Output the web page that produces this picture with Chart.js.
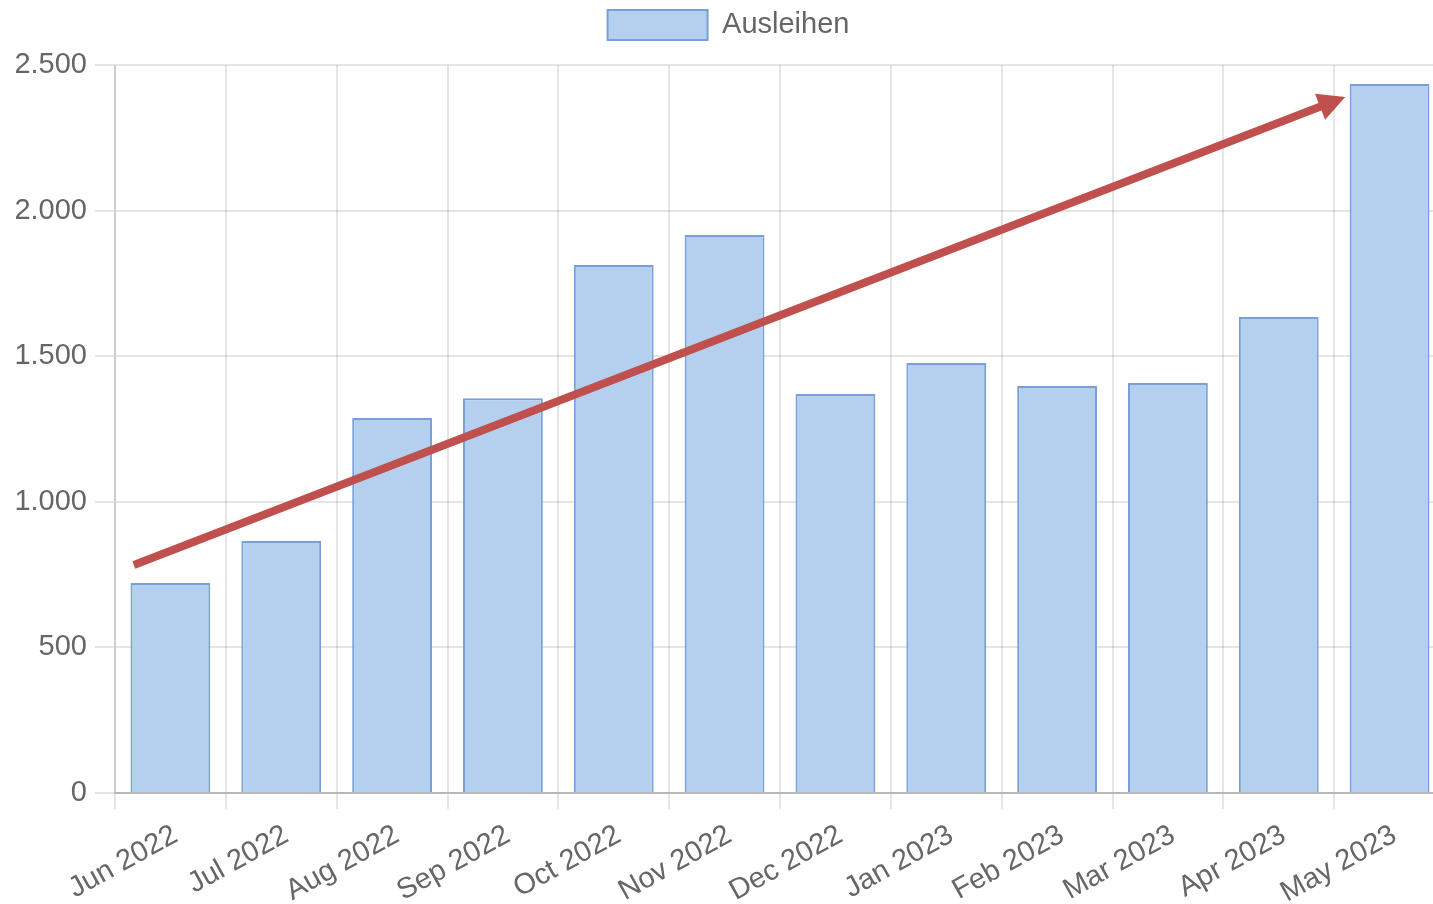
<!DOCTYPE html>
<html>
<head>
<meta charset="utf-8">
<script src="https://cdn.jsdelivr.net/npm/chart.js@4.4.0/dist/chart.umd.min.js"></script>
<style>
  html, body { margin: 0; padding: 0; background: #fff; overflow: hidden; }
  #wrap { width: 1450px; height: 904px; }
</style>
</head>
<body>
<div id="wrap"><canvas id="c" width="1450" height="904"></canvas></div>
<script>
const categories = ['Jun 2022','Jul 2022','Aug 2022','Sep 2022','Oct 2022','Nov 2022','Dec 2022','Jan 2023','Feb 2023','Mar 2023','Apr 2023','May 2023'];
const ausleihen = [721, 865, 1288, 1356, 1813, 1916, 1370, 1477, 1398, 1408, 1635, 2435];
const yTickValues = [0, 500, 1000, 1500, 2000, 2500];
const yTickLabels = ['0', '500', '1.000', '1.500', '2.000', '2.500'];
// trend arrow annotation in data space (category index, value)
const trendArrow = [{x: -0.33, y: 783}, {x: 10.6, y: 2390}];

const legendSpacer = {
  id: 'legendSpacer',
  beforeUpdate(chart) {
    const lg = chart.legend;
    if (lg && !lg._patched) {
      const f = lg.fit.bind(lg);
      lg.fit = function () { f(); this.height += 15; };
      lg._patched = true;
    }
  }
};

const arrowPlugin = {
  id: 'arrow',
  afterDatasetsDraw(chart) {
    const xs = chart.scales.x, ys = chart.scales.y;
    const ctx = chart.ctx;
    const px = v => xs.getPixelForValue(0) + v * (xs.getPixelForValue(1) - xs.getPixelForValue(0));
    const x0 = px(trendArrow[0].x), y0 = ys.getPixelForValue(trendArrow[0].y);
    const x1 = px(trendArrow[1].x), y1 = ys.getPixelForValue(trendArrow[1].y);
    const ang = Math.atan2(y1 - y0, x1 - x0);
    const headLen = 27, headW = 14;
    const bx = x1 - headLen * Math.cos(ang), by = y1 - headLen * Math.sin(ang);
    ctx.save();
    ctx.strokeStyle = 'rgb(192,80,77)';
    ctx.fillStyle = 'rgb(192,80,77)';
    ctx.lineWidth = 8;
    ctx.lineCap = 'butt';
    ctx.beginPath();
    ctx.moveTo(x0, y0);
    ctx.lineTo(bx + 4 * Math.cos(ang), by + 4 * Math.sin(ang));
    ctx.stroke();
    ctx.beginPath();
    ctx.moveTo(x1, y1);
    ctx.lineTo(bx + headW * Math.sin(ang), by - headW * Math.cos(ang));
    ctx.lineTo(bx - headW * Math.sin(ang), by + headW * Math.cos(ang));
    ctx.closePath();
    ctx.fill();
    ctx.restore();
  }
};

Chart.defaults.font.family = '"Liberation Sans", Arial, sans-serif';
Chart.defaults.color = '#666';

new Chart(document.getElementById('c'), {
  type: 'bar',
  data: {
    labels: categories,
    datasets: [{
      label: 'Ausleihen',
      data: ausleihen,
      backgroundColor: 'rgb(181,207,238)',
      borderColor: 'rgb(120,160,215)',
      borderWidth: 2
    }]
  },
  options: {
    responsive: false,
    animation: false,
    layout: { padding: { left: 12, right: 5, top: 0, bottom: 0 } },
    plugins: {
      legend: {
        labels: { font: { size: 29 }, boxWidth: 100, boxHeight: 30, padding: 10, color: '#666' }
      },
      tooltip: { enabled: false }
    },
    scales: {
      x: {
        grid: { color: 'rgba(0,0,0,0.1)', lineWidth: 2, tickLength: 16, offset: true },
        border: { color: 'rgba(0,0,0,0.2)', width: 2 },
        ticks: { font: { size: 29 }, minRotation: 29, maxRotation: 29, padding: 9, labelOffset: 5 },
        afterFit(s) { s.height = 111; }
      },
      y: {
        min: 0, max: 2500,
        afterBuildTicks(s) { s.ticks = yTickValues.map(v => ({ value: v })); },
        grid: { color: 'rgba(0,0,0,0.1)', lineWidth: 2, tickLength: 20 },
        border: { color: 'rgba(0,0,0,0.1)', width: 2 },
        ticks: {
          font: { size: 29 }, padding: 8,
          callback: v => yTickLabels[yTickValues.indexOf(v)]
        },
        afterFit(s) { s.width = 103; }
      }
    }
  },
  plugins: [legendSpacer, arrowPlugin]
});
</script>
</body>
</html>
